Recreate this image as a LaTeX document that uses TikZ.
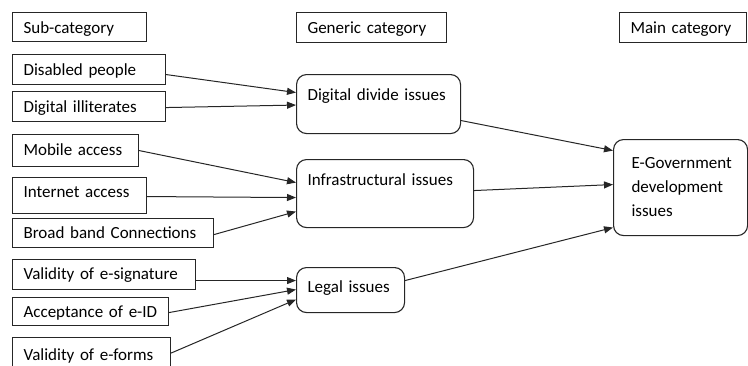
\documentclass[tikz,border=0pt]{standalone}
\usepackage{fontspec}
\setmainfont[WordSpace=0.8]{Carlito}
\usetikzlibrary{arrows.meta}
\newcommand{\fs}{\fontsize{17}{24}\selectfont}
\tikzset{
  box/.style={draw=black!85, line width=1.1pt, anchor=north west, inner xsep=11pt, inner ysep=0pt, align=left, font=\fs},
  rbox/.style={box, rounded corners=10pt},
  arr/.style={-{Triangle[length=9pt,width=7pt]}, line width=1pt, draw=black!85}
}
\begin{document}
\begin{tikzpicture}[x=1pt,y=-1pt]
\useasboundingbox (0,0) rectangle (748,365);
\clip (0,0) rectangle (748,365);
% headers
\node[box, text width=112pt, text height=21pt, text depth=8pt] (sub) at (12,12) {Sub-category};
\node[box, text width=128pt, text height=21pt, text depth=9pt] (gen) at (296,12) {Generic category};
\node[box, text width=105pt, text height=21pt, text depth=9pt] (main) at (619,12) {Main category};
% sub-categories
\node[box, text width=131pt, text height=21pt, text depth=9pt] (dp) at (12,54) {Disabled people};
\node[box, text width=131pt, text height=21pt, text depth=9pt] (di) at (12,91) {Digital illiterates};
\node[box, text width=104pt, text height=21pt, text depth=11pt] (ma) at (12,134) {Mobile access};
\node[box, text width=112pt, text height=20pt, text depth=16pt] (ia) at (12,177) {Internet access};
\node[box, text width=179pt, text height=20pt, text depth=9pt] (bb) at (12,218) {Broad band Connections};
\node[box, text width=161pt, text height=20pt, text depth=10pt] (ves) at (12,259) {Validity of e-signature};
\node[box, text width=134pt, text height=20pt, text depth=8pt] (ae) at (12,297) {Acceptance of e-ID};
\node[box, text width=136pt, text height=23pt, text depth=8pt] (vef) at (12,337) {Validity of e-forms};
% generic categories
\node[rbox, text width=142pt, text height=26pt, text depth=33pt] (dd) at (296,74) {Digital divide issues};
\node[rbox, text width=155pt, text height=26pt, text depth=42pt] (inf) at (296,159) {Infrastructural issues};
\node[rbox, text width=86pt, text height=25pt, text depth=20pt] (leg) at (296,267) {Legal issues};
% main category
\node[rbox, inner xsep=0pt, text width=134pt, text height=29pt, text depth=67pt] (eg) at (613,139) {\hspace*{18pt}E-Government\\\hspace*{18pt}development\\\hspace*{18pt}issues};
% connectors
\draw[arr] ([yshift=-5pt]dp.east) -- ([yshift=11.5pt]dd.west);
\draw[arr] ([yshift=-1pt]di.east) -- ([yshift=-1pt]dd.west);
\draw[arr] ([yshift=-16.5pt]dd.east) -- ([yshift=37pt]eg.west);
\draw[arr] (ma.east) -- ([yshift=11pt]inf.west);
\draw[arr] ([yshift=-1pt]ia.east) -- ([yshift=-4pt]inf.west);
\draw[arr] ([yshift=-1.5pt]bb.east) -- ([yshift=-18pt]inf.west);
\draw[arr] ([yshift=3pt]inf.east) -- ([yshift=3pt]eg.west);
\draw[arr] ([yshift=9.5pt]leg.east) -- ([yshift=-40pt]eg.west);
\draw[arr] ([yshift=-6pt]ves.east) -- ([yshift=9.5pt]leg.west);
\draw[arr] ([yshift=-1pt]ae.east) -- ([yshift=0.5pt]leg.west);
\draw[arr] (vef.east) -- ([yshift=-9.5pt]leg.west);
\end{tikzpicture}
\end{document}
